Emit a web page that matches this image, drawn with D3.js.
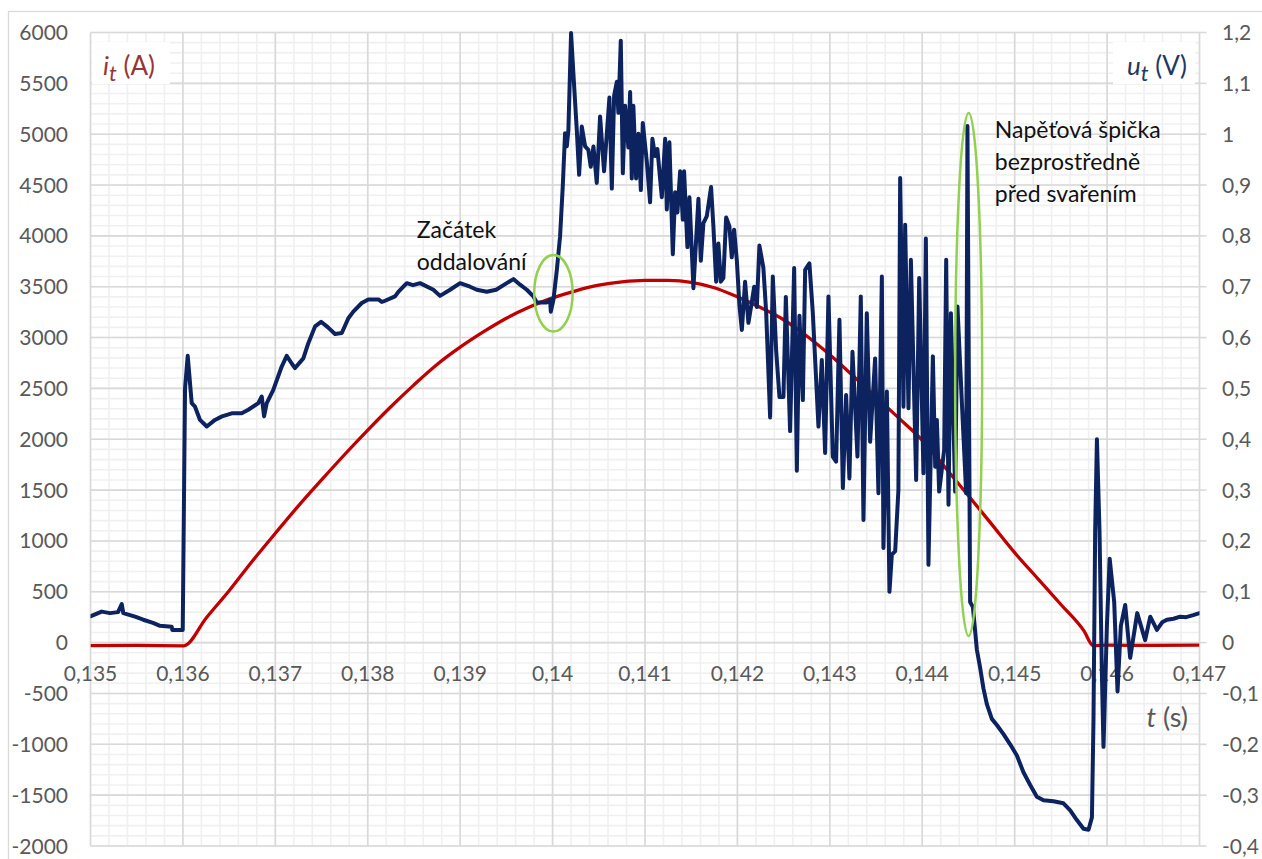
<!DOCTYPE html>
<html>
<head>
<meta charset="utf-8">
<script src="https://cdn.jsdelivr.net/npm/d3@7"></script>
<style>
  html, body { margin: 0; padding: 0; background: #fff; }
  svg { display: block; }
  text { font-family: Lato, "Open Sans", "DejaVu Sans", sans-serif; }
</style>
</head>
<body>
<svg id="chart" width="1262" height="859"></svg>
<script>
// ---- data ----
const xTicks = [0.135, 0.136, 0.137, 0.138, 0.139, 0.140, 0.141, 0.142, 0.143, 0.144, 0.145, 0.146, 0.147];
const yLeftTicks = [-2000, -1500, -1000, -500, 0, 500, 1000, 1500, 2000, 2500, 3000, 3500, 4000, 4500, 5000, 5500, 6000];
const yRightTicks = [-0.4, -0.3, -0.2, -0.1, 0, 0.1, 0.2, 0.3, 0.4, 0.5, 0.6, 0.7, 0.8, 0.9, 1.0, 1.1, 1.2];

// current i_t (A)
const timeI = [0.135, 0.1355, 0.136, 0.13602, 0.13625, 0.1365, 0.13675, 0.137, 0.13725, 0.1375, 0.13775, 0.138,
  0.13825, 0.1385, 0.13875, 0.139, 0.13925, 0.1395, 0.13975, 0.140, 0.14025, 0.1405, 0.14075, 0.141, 0.14125,
  0.1415, 0.14175, 0.142, 0.14225, 0.1425, 0.14275, 0.143, 0.14325, 0.1435, 0.14375, 0.144, 0.14425, 0.1445,
  0.14475, 0.145, 0.14525, 0.1455, 0.14575, 0.14585, 0.146, 0.1465, 0.147];
const currI = [-30, -28, -32, -30, 240, 510, 800, 1075, 1345, 1600, 1850, 2090,
  2320, 2535, 2735, 2905, 3055, 3190, 3300, 3390, 3460, 3515, 3548, 3563, 3562,
  3543, 3490, 3400, 3295, 3175, 3015, 2830, 2625, 2415, 2205, 1990, 1720, 1445,
  1165, 885, 630, 375, 115, -30, -25, -28, -25];

// voltage u_t (V)
const timeU = [0.135005, 0.135121, 0.135211, 0.135298, 0.135338, 0.135355, 0.135482, 0.135571, 0.135676, 0.135752,
  0.135879, 0.135885, 0.135998, 0.136023, 0.136052, 0.136095, 0.136131, 0.136185, 0.136258, 0.136347,
  0.136423, 0.136528, 0.136636, 0.136708, 0.136816, 0.136853, 0.136878, 0.136907, 0.136978, 0.137069,
  0.137123, 0.137181, 0.137213, 0.137303, 0.137357, 0.137430, 0.137495, 0.137570, 0.137646, 0.137719,
  0.137790, 0.137844, 0.137935, 0.138006, 0.138115, 0.138152, 0.138169, 0.138295, 0.138331, 0.138422,
  0.138490, 0.138566, 0.138710, 0.138782, 0.138891, 0.138999, 0.139107, 0.139180, 0.139288, 0.139389,
  0.139504, 0.139576, 0.139648, 0.139721, 0.139792, 0.139829, 0.139937, 0.139973, 0.139981, 0.140009,
  0.140046, 0.140081, 0.140110, 0.140135, 0.140154, 0.140171, 0.140200, 0.140225, 0.140262, 0.140287,
  0.140316, 0.140352, 0.140387, 0.140413, 0.140442, 0.140478, 0.140514, 0.140557, 0.140587, 0.140615,
  0.140641, 0.140666, 0.140695, 0.140712, 0.140738, 0.140760, 0.140785, 0.140820, 0.140839, 0.140857,
  0.140874, 0.140904, 0.140929, 0.140955, 0.140976, 0.141019, 0.141055, 0.141080, 0.141109, 0.141134,
  0.141156, 0.141182, 0.141218, 0.141236, 0.141264, 0.141301, 0.141326, 0.141351, 0.141380, 0.141409,
  0.141423, 0.141459, 0.141481, 0.141524, 0.141578, 0.141604, 0.141632, 0.141669, 0.141715, 0.141740,
  0.141770, 0.141794, 0.141820, 0.141848, 0.141878, 0.141913, 0.141939, 0.141964, 0.141994, 0.142022,
  0.142048, 0.142083, 0.142119, 0.142156, 0.142181, 0.142210, 0.142238, 0.142281, 0.142311, 0.142354,
  0.142383, 0.142419, 0.142455, 0.142498, 0.142524, 0.142570, 0.142614, 0.142643, 0.142671, 0.142708,
  0.142733, 0.142779, 0.142816, 0.142877, 0.142913, 0.142949, 0.142985, 0.143032, 0.143068, 0.143104,
  0.143141, 0.143176, 0.143212, 0.143245, 0.143299, 0.143335, 0.143364, 0.143400, 0.143436, 0.143490,
  0.143526, 0.143563, 0.143580, 0.143617, 0.143645, 0.143671, 0.143707, 0.143742, 0.143761, 0.143797,
  0.143815, 0.143851, 0.143877, 0.143934, 0.143967, 0.144013, 0.144039, 0.144067, 0.144115, 0.144140,
  0.144158, 0.144183, 0.144237, 0.144259, 0.144284, 0.144310, 0.144356, 0.144381, 0.144429, 0.144475,
  0.144489, 0.144518, 0.144548, 0.144591, 0.144627, 0.144662, 0.144699, 0.144753, 0.144807, 0.144879,
  0.144951, 0.145024, 0.145095, 0.145168, 0.145240, 0.145312, 0.145420, 0.145528, 0.145601, 0.145673,
  0.145745, 0.145799, 0.145836, 0.145853, 0.145871, 0.145890, 0.145918, 0.145944, 0.145961, 0.145998,
  0.146028, 0.146077, 0.146113, 0.146149, 0.146196, 0.146250, 0.146326, 0.146412, 0.146467, 0.146539,
  0.146596, 0.146647, 0.146719, 0.146791, 0.146856, 0.146932, 0.147000];
const voltU = [0.052, 0.061, 0.058, 0.060, 0.076, 0.058, 0.051, 0.045, 0.039, 0.033,
  0.031, 0.025, 0.025, 0.500, 0.564, 0.471, 0.464, 0.438, 0.425, 0.438,
  0.445, 0.451, 0.451, 0.458, 0.471, 0.484, 0.445, 0.471, 0.497, 0.543,
  0.564, 0.548, 0.540, 0.559, 0.589, 0.622, 0.631, 0.620, 0.607, 0.609,
  0.638, 0.651, 0.668, 0.675, 0.675, 0.670, 0.671, 0.681, 0.690, 0.707,
  0.703, 0.707, 0.694, 0.682, 0.694, 0.707, 0.700, 0.694, 0.690, 0.694,
  0.707, 0.715, 0.704, 0.694, 0.681, 0.669, 0.669, 0.674, 0.651, 0.674,
  0.733, 0.799, 0.897, 1.002, 0.976, 1.008, 1.199, 1.120, 1.008, 0.920,
  1.015, 0.976, 0.969, 0.936, 0.976, 0.904, 1.035, 0.927, 1.001, 1.072,
  0.893, 1.076, 1.103, 1.042, 1.184, 0.923, 1.056, 0.974, 1.083, 0.913,
  1.056, 0.913, 1.001, 0.890, 1.022, 0.947, 0.866, 0.991, 0.957, 0.971,
  0.927, 0.876, 0.991, 0.852, 0.984, 0.764, 0.886, 0.846, 0.927, 0.832,
  0.927, 0.778, 0.876, 0.697, 0.873, 0.751, 0.825, 0.839, 0.896, 0.819,
  0.710, 0.785, 0.710, 0.717, 0.836, 0.819, 0.758, 0.812, 0.751, 0.663,
  0.615, 0.710, 0.629, 0.670, 0.700, 0.660, 0.781, 0.737, 0.650, 0.443,
  0.720, 0.575, 0.483, 0.483, 0.680, 0.416, 0.737, 0.338, 0.643, 0.477,
  0.733, 0.746, 0.648, 0.425, 0.556, 0.373, 0.681, 0.366, 0.356, 0.635,
  0.304, 0.487, 0.323, 0.572, 0.366, 0.681, 0.241, 0.648, 0.395, 0.559,
  0.294, 0.720, 0.186, 0.494, 0.100, 0.173, 0.180, 0.300, 0.914, 0.464,
  0.822, 0.461, 0.753, 0.320, 0.717, 0.333, 0.795, 0.153, 0.563, 0.346,
  0.438, 0.297, 0.379, 0.753, 0.271, 0.648, 0.297, 0.661, 0.471, 0.294,
  1.016, 0.080, 0.070, -0.014, -0.050, -0.090, -0.121, -0.150, -0.162, -0.180,
  -0.200, -0.222, -0.255, -0.280, -0.303, -0.310, -0.312, -0.316, -0.330, -0.349,
  -0.366, -0.368, -0.344, -0.150, 0.220, 0.400, 0.220, -0.062, -0.205, 0.033,
  0.165, 0.080, -0.096, 0.033, 0.074, -0.030, 0.058, 0.005, 0.051, 0.025,
  0.040, 0.045, 0.047, 0.051, 0.050, 0.054, 0.058];

// annotations (data coordinates)
const notes = [
  { lines: ["Začátek", "oddalování"], t: 0.13853, i: 3975 },
  { lines: ["Napěťová špička", "bezprostředně", "před svařením"], t: 0.144785, i: 4960 }
];
const ellipses = [
  { t: 0.140009, i: 3436, dt: 0.000208, di: 377 },
  { t: 0.144502, i: 2637, dt: 0.000146, di: 2571 }
];

// ---- layout ----
const svg = d3.select("#chart");
const L = 90.5, R = 1199.5, T = 32.5, B = 846;
const x = d3.scaleLinear().domain([0.135, 0.147]).range([L, R]);
const yI = d3.scaleLinear().domain([-2000, 6000]).range([B, T]);
const yU = d3.scaleLinear().domain([-0.4, 1.2]).range([B, T]);

const fmtComma = d => String(+d.toFixed(3)).replace(".", ",");

// outer border
svg.append("rect").attr("x", 8.5).attr("y", 11.5).attr("width", 1260).attr("height", 852)
  .attr("fill", "#fff").attr("stroke", "#d9d9d9").attr("stroke-width", 1.3);

// minor gridlines
const gMinor = svg.append("g").attr("stroke", "#f0f0f0").attr("stroke-width", 1.6);
d3.range(0, 61).map(k => 0.135 + k * 0.0002).forEach(t => {
  gMinor.append("line").attr("x1", x(t)).attr("x2", x(t)).attr("y1", T).attr("y2", B);
});
d3.range(-2000, 6001, 100).forEach(v => {
  gMinor.append("line").attr("x1", L).attr("x2", R).attr("y1", yI(v)).attr("y2", yI(v));
});
// major gridlines
const gMajor = svg.append("g").attr("stroke", "#d9d9d9").attr("stroke-width", 1.6);
xTicks.forEach(t => {
  gMajor.append("line").attr("x1", x(t)).attr("x2", x(t)).attr("y1", T).attr("y2", B);
});
yLeftTicks.forEach(v => {
  gMajor.append("line").attr("x1", L).attr("x2", R).attr("y1", yI(v)).attr("y2", yI(v));
});
// right axis ticks
yRightTicks.forEach(v => {
  gMajor.append("line").attr("x1", R).attr("x2", R + 7).attr("y1", yU(v)).attr("y2", yU(v));
});

// white boxes behind axis titles
svg.append("rect").attr("x", 92).attr("y", 42).attr("width", 78).attr("height", 42).attr("fill", "#fff");
svg.append("rect").attr("x", 1113).attr("y", 42).attr("width", 82).attr("height", 42).attr("fill", "#fff");

// tick labels
const tickStyle = sel => sel.attr("fill", "#595959").attr("font-size", 21);
yLeftTicks.forEach(v => {
  svg.append("text").attr("x", 68).attr("y", yI(v) + 7.5).attr("text-anchor", "end")
    .call(tickStyle).text(String(v));
});
yRightTicks.forEach(v => {
  svg.append("text").attr("x", 1222).attr("y", yU(v) + 7.5).attr("text-anchor", "start")
    .call(tickStyle).text(String(+v.toFixed(1)).replace(".", ","));
});
xTicks.forEach(t => {
  svg.append("text").attr("x", x(t)).attr("y", yI(0) + 38).attr("text-anchor", "middle")
    .call(tickStyle).text(fmtComma(t));
});

// series
const clip = svg.append("clipPath").attr("id", "plotclip");
clip.append("rect").attr("x", L).attr("y", T - 4).attr("width", R - L).attr("height", B - T + 4);

const gData = svg.append("g").attr("clip-path", "url(#plotclip)");
const lineI = d3.line().x(d => x(d[0])).y(d => yI(d[1])).curve(d3.curveMonotoneX);
const lineU = d3.line().x(d => x(d[0])).y(d => yU(d[1]));
gData.append("path").datum(timeI.map((t, k) => [t, currI[k]]))
  .attr("d", lineI).attr("fill", "none").attr("stroke", "#c00000").attr("stroke-width", 3.3)
  .attr("stroke-linejoin", "round");
gData.append("path").datum(timeU.map((t, k) => [t, voltU[k]]))
  .attr("d", lineU).attr("fill", "none").attr("stroke", "#0c2360").attr("stroke-width", 4)
  .attr("stroke-linejoin", "round").attr("stroke-linecap", "round");

// ellipses
ellipses.forEach(e => {
  svg.append("ellipse")
    .attr("cx", x(e.t)).attr("cy", yI(e.i))
    .attr("rx", x(e.t + e.dt) - x(e.t)).attr("ry", yI(e.i) - yI(e.i + e.di))
    .attr("fill", "none").attr("stroke", "#92d050").attr("stroke-width", 2.5);
});

// annotations
notes.forEach(n => {
  const tx = svg.append("text").attr("x", x(n.t)).attr("y", yI(n.i))
    .attr("fill", "#111").attr("font-size", 23);
  n.lines.forEach((s, k) => {
    tx.append("tspan").attr("x", x(n.t)).attr("dy", k === 0 ? 0 : 32).text(s);
  });
});

// axis titles
const tI = svg.append("text").attr("x", 103).attr("y", 75).attr("font-size", 26).attr("fill", "#953735");
tI.append("tspan").attr("font-style", "italic").text("i");
tI.append("tspan").attr("font-style", "italic").attr("font-size", 22).attr("dy", 6).text("t");
tI.append("tspan").attr("dy", -6).text(" (A)");

const tU = svg.append("text").attr("x", 1187).attr("y", 75).attr("font-size", 26).attr("fill", "#1f3864")
  .attr("text-anchor", "end");
tU.append("tspan").attr("font-style", "italic").text("u");
tU.append("tspan").attr("font-style", "italic").attr("font-size", 22).attr("dy", 6).text("t");
tU.append("tspan").attr("dy", -6).text(" (V)");

const tT = svg.append("text").attr("x", 1188).attr("y", 727).attr("font-size", 27).attr("fill", "#595959")
  .attr("text-anchor", "end");
tT.append("tspan").attr("font-style", "italic").text("t");
tT.append("tspan").text(" (s)");
</script>
</body>
</html>
